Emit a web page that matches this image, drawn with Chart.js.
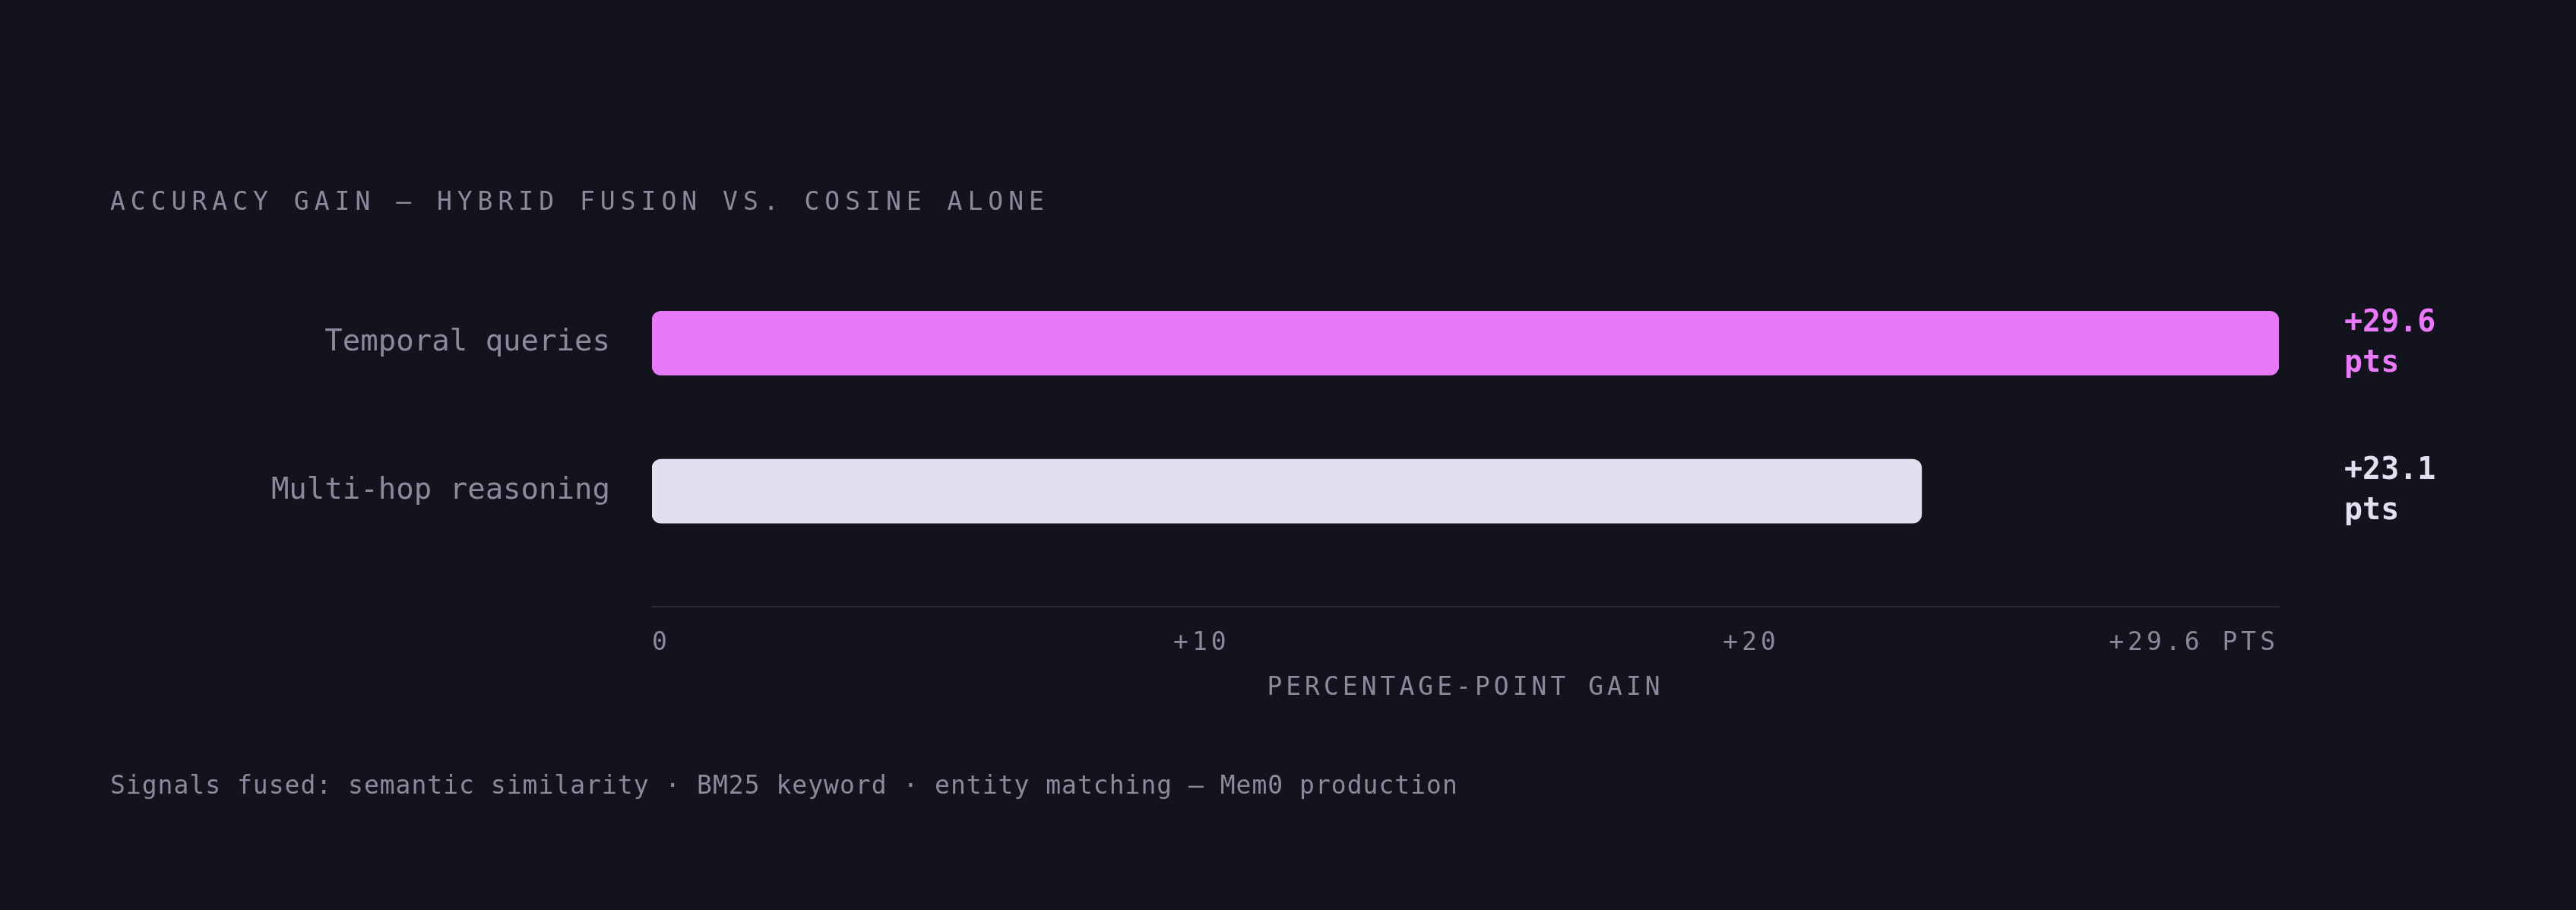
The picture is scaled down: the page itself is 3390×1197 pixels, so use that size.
<!DOCTYPE html>
<html>
<head>
<meta charset="utf-8">
<title>Accuracy gain — hybrid fusion vs. cosine alone</title>
<script src="https://cdn.jsdelivr.net/npm/chart.js@4.4.1/dist/chart.umd.min.js"></script>
<style>
  html, body { margin: 0; padding: 0; background: #13131e; }
  body { width: 3390px; height: 1197px; position: relative; overflow: hidden; font-family: 'DejaVu Sans Mono', monospace; }
  .title { position: absolute; left: 145px; top: 248px; font-size: 33px; line-height: 33px; letter-spacing: 7px; color: #8b8a9c; white-space: nowrap; }
  .note { position: absolute; left: 145px; top: 1016px; font-size: 33px; line-height: 33px; letter-spacing: 1px; color: #8b8a9c; white-space: nowrap; }
  #wrap { position: absolute; left: 0; top: 0; width: 3390px; height: 1197px; }
</style>
</head>
<body>
<div id="wrap"><canvas id="gainChart"></canvas></div>
<div class="title">ACCURACY GAIN — HYBRID FUSION VS. COSINE ALONE</div>
<div class="note">Signals fused: semantic similarity · BM25 keyword · entity matching — Mem0 production</div>
<script>
// data
const categories = ['Temporal queries', 'Multi-hop reasoning'];
const gains = [29.6, 23.1];
const barColors = ['#e879f9', '#e2dff0'];
const tickValues = [0, 10, 20, 29.6];
const tickLabels = ['0', '+10', '+20', '+29.6 PTS'];

const FONT = "'DejaVu Sans Mono', monospace";
const MUTED = '#8b8a9c';

// "+29.6 / pts" labels to the right of the plot
const valueLabels = {
  id: 'valueLabels',
  afterDatasetsDraw(chart) {
    const ctx = chart.ctx;
    const meta = chart.getDatasetMeta(0);
    ctx.save();
    ctx.font = 'bold 40px ' + FONT;
    ctx.textAlign = 'left';
    ctx.textBaseline = 'middle';
    meta.data.forEach((bar, i) => {
      const x = chart.chartArea.right + 86;
      ctx.fillStyle = barColors[i];
      ctx.fillText('+' + gains[i].toFixed(1), x, bar.y - 26);
      ctx.fillText('pts', x, bar.y + 27);
    });
    ctx.restore();
    // x axis layers (z: 1) come after this, spaced caps like the original
    ctx.letterSpacing = '5px';
  },
  afterDraw(chart) {
    chart.ctx.letterSpacing = '0px';
  }
};

new Chart(document.getElementById('gainChart'), {
  type: 'bar',
  data: {
    datasets: [{
      data: gains.map((g, i) => ({ x: g, y: i })),
      backgroundColor: barColors,
      borderRadius: 12,
      borderSkipped: false,
      barThickness: 84
    }]
  },
  options: {
    indexAxis: 'y',
    responsive: true,
    maintainAspectRatio: false,
    animation: false,
    layout: { padding: { top: 354, right: 391, bottom: 0, left: 0 } },
    plugins: {
      legend: { display: false },
      tooltip: { enabled: false },
      title: { display: false }
    },
    scales: {
      x: {
        type: 'linear',
        min: 0,
        max: 29.6,
        bounds: 'data',
        grid: { display: false, drawTicks: false, z: 1 },
        border: { display: true, color: '#2a2a38', width: 2, z: 1 },
        afterBuildTicks: s => { s.ticks = tickValues.map(v => ({ value: v })); },
        afterFit: s => { s.height = 399; },
        ticks: {
          z: 1,
          align: 'inner',
          padding: 29,
          maxRotation: 0,
          autoSkip: false,
          color: MUTED,
          font: { family: FONT, size: 33 },
          callback: (v, i) => tickLabels[i]
        },
        title: {
          display: true,
          text: 'PERCENTAGE-POINT GAIN',
          color: MUTED,
          font: { family: FONT, size: 33 },
          padding: { top: 0, bottom: 272 }
        }
      },
      y: {
        type: 'linear',
        reverse: true,
        offset: false,
        min: -0.5,
        max: 1.78,
        bounds: 'data',
        grid: { display: false, drawTicks: false },
        border: { display: false },
        afterBuildTicks: s => { s.ticks = categories.map((c, i) => ({ value: i })); },
        afterFit: s => { s.width = 858; },
        ticks: {
          padding: 55,
          autoSkip: false,
          color: MUTED,
          font: { family: FONT, size: 39 },
          callback: v => categories[v]
        }
      }
    }
  },
  plugins: [valueLabels]
});
</script>
</body>
</html>
